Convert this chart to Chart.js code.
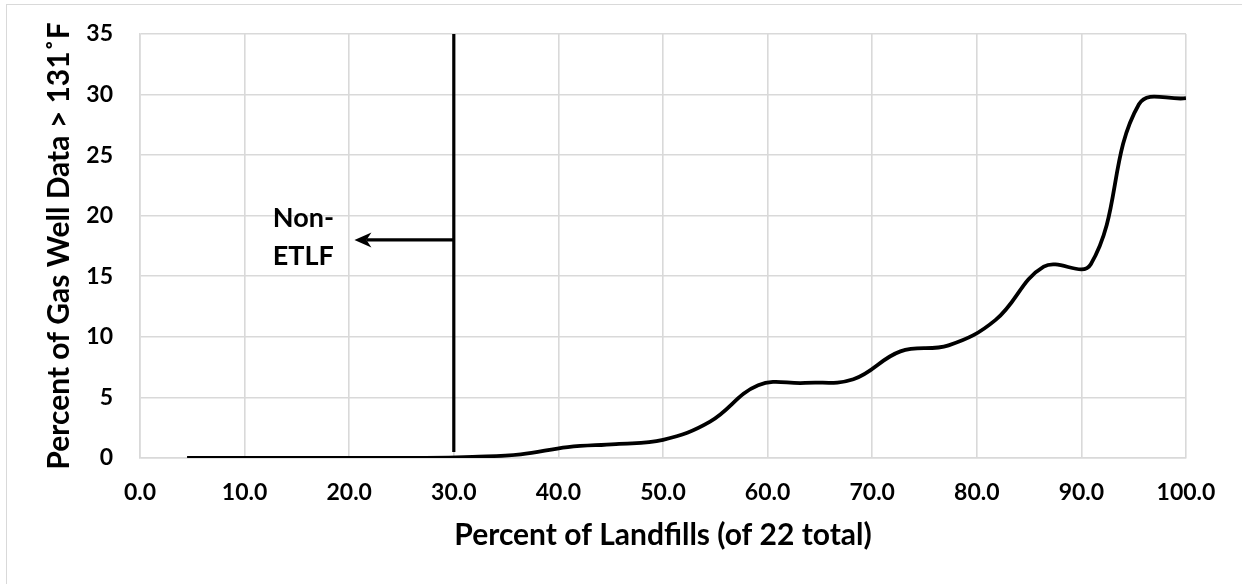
<!DOCTYPE html>
<html>
<head>
<meta charset="utf-8">
<script src="https://cdn.jsdelivr.net/npm/chart.js@4.4.1/dist/chart.umd.min.js"></script>
<style>
  html, body { margin: 0; padding: 0; background: #fff; overflow: hidden; }
  #wrap { position: relative; width: 1242px; height: 584px; }
  #frame { position: absolute; left: 6px; top: 4px; width: 1400px; height: 800px;
           border: 1.5px solid #d9d9d9; pointer-events: none; }
  canvas { position: absolute; left: 0; top: 0; }
</style>
</head>
<body>
<div id="wrap">
  <div id="frame"></div>
  <canvas id="myChart" width="1242" height="584"></canvas>
</div>
<script>
// percent of landfills (22 sites) and percent of gas well data above 131F
const landfillPct = [4.5, 9.1, 13.6, 18.2, 22.7, 27.3, 31.8, 36.4, 40.9, 45.5, 50.0,
                     54.5, 59.1, 63.6, 68.2, 72.7, 77.3, 81.8, 86.4, 90.9, 95.5, 100.0];
const hotWellPct = [0, 0, 0, 0, 0, 0, 0.1, 0.3, 0.9, 1.15, 1.5,
                    3.0, 6.0, 6.2, 6.5, 8.8, 9.3, 11.4, 15.8, 16.0, 29.2, 29.7];

// cutoff line and arrow for the non-ETLF group
const cutoffX = 30;
const cutoffY = [0.5, 35];
const arrowFrom = [30, 18];
const arrowTo = [20.5, 18];
const noteLines = ['Non-', 'ETLF'];
const noteX = 12.7;
const noteY = [19.1, 15.9];

const yTitle = 'Percent of Gas Well Data > 131˚F';
const xTitle = 'Percent of Landfills (of 22 total)';

Chart.defaults.font.family = 'Lato';
Chart.defaults.color = '#000';

const annotate = {
  id: 'annotate',
  afterDatasetsDraw(chart) {
    const { ctx, scales: { x, y } } = chart;
    ctx.save();
    ctx.strokeStyle = '#000';
    ctx.fillStyle = '#000';
    ctx.lineWidth = 3.2;

    // vertical cutoff
    ctx.beginPath();
    ctx.moveTo(x.getPixelForValue(cutoffX), y.getPixelForValue(cutoffY[0]));
    ctx.lineTo(x.getPixelForValue(cutoffX), y.getPixelForValue(cutoffY[1]));
    ctx.stroke();

    // arrow
    const x0 = x.getPixelForValue(arrowFrom[0]), y0 = y.getPixelForValue(arrowFrom[1]);
    const x1 = x.getPixelForValue(arrowTo[0]), y1 = y.getPixelForValue(arrowTo[1]);
    ctx.beginPath();
    ctx.moveTo(x0, y0);
    ctx.lineTo(x1 + 12, y1);
    ctx.stroke();
    ctx.beginPath();
    ctx.moveTo(x1, y1);
    ctx.lineTo(x1 + 17, y1 - 7.5);
    ctx.lineTo(x1 + 12, y1);
    ctx.lineTo(x1 + 17, y1 + 7.5);
    ctx.closePath();
    ctx.fill();

    ctx.font = 'bold 27px Lato';
    ctx.textAlign = 'left';
    ctx.textBaseline = 'alphabetic';
    noteLines.forEach((t, i) => {
      ctx.fillText(t, x.getPixelForValue(noteX), y.getPixelForValue(noteY[i]));
    });
    ctx.restore();
  }
};

const ctx = document.getElementById('myChart').getContext('2d');
const chart = new Chart(ctx, {
  type: 'line',
  data: {
    datasets: [{
      data: landfillPct.map((v, i) => ({ x: v, y: hotWellPct[i] })),
      borderColor: '#000',
      borderWidth: 3.8,
      pointRadius: 0,
      tension: 0.4,
      fill: false
    }]
  },
  options: {
    responsive: false,
    animation: false,
    layout: { padding: { top: 34, right: 56, left: 0, bottom: 0 } },
    plugins: {
      legend: { display: false },
      tooltip: { enabled: false }
    },
    scales: {
      x: {
        type: 'linear',
        min: 0,
        max: 100,
        ticks: {
          stepSize: 10,
          padding: 21,
          font: { size: 23, weight: 'bold' },
          callback: v => v.toFixed(1)
        },
        grid: { color: '#d9d9d9', lineWidth: 1.6, drawTicks: false },
        border: { color: '#d9d9d9', width: 1.6 },
        title: {
          display: true,
          text: xTitle,
          font: { size: 30, weight: 'bold' },
          padding: { top: 0, bottom: 31 }
        },
        afterFit: s => { s.height = 126; }
      },
      y: {
        min: 0,
        max: 35,
        ticks: {
          stepSize: 5,
          padding: 27,
          font: { size: 23, weight: 'bold' }
        },
        grid: { color: '#d9d9d9', lineWidth: 1.6, drawTicks: false },
        border: { color: '#d9d9d9', width: 1.6 },
        title: {
          display: true,
          text: yTitle,
          font: { size: 30, weight: 'bold' },
          padding: { top: 41, bottom: 0 }
        },
        afterFit: s => {
          s.width = 140;
          s.paddingTop = 14;
          s.paddingBottom = 14;
        }
      }
    }
  },
  plugins: [annotate]
});
</script>
</body>
</html>
